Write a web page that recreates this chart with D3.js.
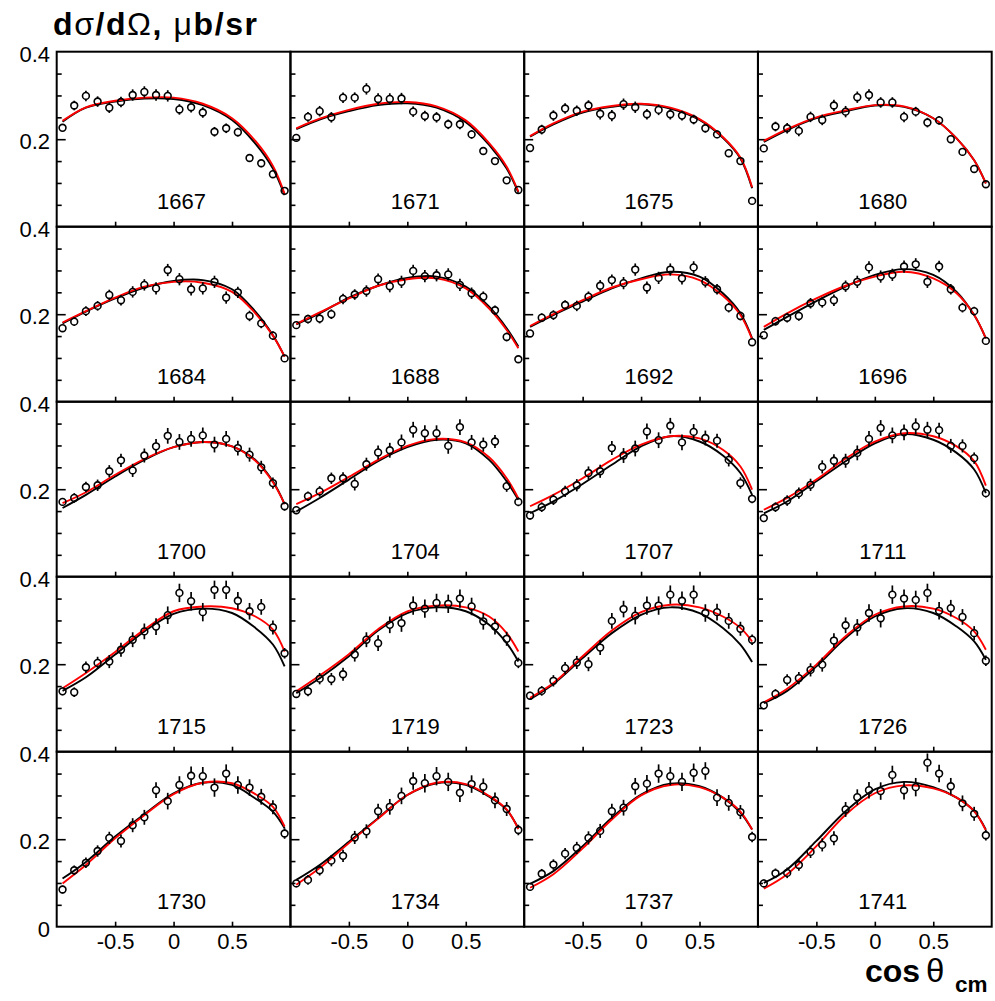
<!DOCTYPE html>
<html><head><meta charset="utf-8">
<script src="https://cdn.jsdelivr.net/npm/d3@7"></script>
<style>body{margin:0;background:#fff}svg{display:block}</style>
</head><body>
<script>
// ---------- data ----------
const energies = ["1667","1671","1675","1680","1684","1688","1692","1696","1700","1704","1707","1711","1715","1719","1723","1726","1730","1734","1737","1741"];
const cosTheta = [-0.95,-0.85,-0.75,-0.65,-0.55,-0.45,-0.35,-0.25,-0.15,-0.05,0.05,0.15,0.25,0.35,0.45,0.55,0.65,0.75,0.85,0.95];
const fitCos = [-0.95,-0.75,-0.5,-0.25,0,0.25,0.5,0.7,0.85,0.95];
const xTicks = [-0.5,0,0.5];
const yMajor = [0.2];
const yMinor = [0.05,0.1,0.15,0.25,0.3,0.35];

const d1667=[0.226,0.277,0.299,0.286,0.272,0.285,0.301,0.308,0.301,0.299,0.268,0.273,0.261,0.217,0.225,0.216,0.157,0.145,0.120,0.082];
const b1667=[0.240,0.272,0.286,0.293,0.292,0.278,0.244,0.190,0.133,0.072];
const r1667=[0.242,0.273,0.288,0.295,0.295,0.281,0.248,0.196,0.139,0.075];
const d1671=[0.203,0.251,0.264,0.250,0.295,0.295,0.315,0.292,0.292,0.293,0.263,0.253,0.250,0.234,0.234,0.211,0.173,0.150,0.106,0.084];
const b1671=[0.223,0.245,0.264,0.278,0.282,0.272,0.239,0.187,0.133,0.078];
const r1671=[0.225,0.247,0.267,0.281,0.285,0.275,0.243,0.191,0.137,0.080];
const d1675=[0.180,0.222,0.254,0.270,0.265,0.277,0.258,0.254,0.280,0.273,0.257,0.267,0.257,0.254,0.245,0.225,0.211,0.168,0.150,0.059];
const b1675=[0.206,0.234,0.261,0.274,0.280,0.270,0.244,0.203,0.156,0.088];
const r1675=[0.207,0.236,0.263,0.276,0.281,0.272,0.246,0.205,0.158,0.090];
const d1680=[0.179,0.229,0.225,0.219,0.251,0.244,0.277,0.263,0.296,0.301,0.284,0.284,0.251,0.263,0.238,0.243,0.200,0.171,0.132,0.097];
const b1680=[0.194,0.221,0.248,0.264,0.277,0.274,0.248,0.202,0.152,0.099];
const r1680=[0.196,0.223,0.250,0.266,0.278,0.275,0.248,0.202,0.152,0.099];
const d1684=[0.168,0.183,0.207,0.219,0.244,0.232,0.251,0.267,0.259,0.301,0.280,0.257,0.259,0.274,0.238,0.250,0.196,0.179,0.151,0.099];
const b1684=[0.179,0.206,0.236,0.261,0.276,0.278,0.257,0.206,0.152,0.103];
const r1684=[0.181,0.207,0.238,0.263,0.274,0.272,0.251,0.202,0.151,0.103];
const d1688=[0.175,0.189,0.190,0.200,0.235,0.245,0.253,0.280,0.264,0.274,0.299,0.287,0.289,0.291,0.267,0.248,0.240,0.209,0.148,0.097];
const b1688=[0.177,0.202,0.238,0.265,0.283,0.286,0.263,0.217,0.168,0.126];
const r1688=[0.178,0.204,0.236,0.265,0.280,0.282,0.259,0.213,0.164,0.122];
const d1692=[0.156,0.192,0.198,0.221,0.219,0.240,0.265,0.278,0.271,0.302,0.261,0.283,0.302,0.282,0.307,0.274,0.257,0.215,0.196,0.136];
const b1692=[0.171,0.198,0.229,0.259,0.282,0.297,0.286,0.248,0.202,0.145];
const r1692=[0.173,0.200,0.232,0.261,0.280,0.291,0.278,0.242,0.198,0.143];
const d1696=[0.152,0.184,0.192,0.196,0.225,0.227,0.232,0.264,0.274,0.307,0.286,0.290,0.309,0.314,0.274,0.309,0.257,0.215,0.207,0.139];
const b1696=[0.164,0.194,0.230,0.263,0.290,0.303,0.290,0.251,0.198,0.145];
const r1696=[0.171,0.202,0.236,0.265,0.286,0.297,0.282,0.248,0.198,0.145];
const d1700=[0.171,0.180,0.205,0.209,0.241,0.266,0.243,0.277,0.298,0.322,0.308,0.315,0.323,0.302,0.315,0.294,0.279,0.250,0.214,0.161];
const b1700=[0.157,0.187,0.229,0.267,0.296,0.308,0.298,0.267,0.218,0.166];
const r1700=[0.168,0.193,0.233,0.269,0.296,0.308,0.298,0.265,0.216,0.166];
const d1704=[0.152,0.184,0.195,0.225,0.225,0.212,0.257,0.284,0.289,0.307,0.336,0.328,0.328,0.299,0.342,0.307,0.302,0.309,0.207,0.171];
const b1704=[0.149,0.180,0.222,0.264,0.296,0.313,0.305,0.267,0.218,0.176];
const r1704=[0.166,0.191,0.228,0.267,0.299,0.315,0.307,0.273,0.225,0.179];
const d1707=[0.140,0.159,0.176,0.195,0.209,0.237,0.241,0.294,0.277,0.293,0.332,0.312,0.345,0.307,0.331,0.317,0.311,0.267,0.214,0.178];
const b1707=[0.145,0.172,0.212,0.256,0.298,0.321,0.309,0.277,0.237,0.187];
const r1707=[0.161,0.187,0.225,0.267,0.302,0.321,0.316,0.290,0.252,0.199];
const d1711=[0.134,0.159,0.174,0.191,0.210,0.251,0.265,0.265,0.283,0.315,0.340,0.323,0.330,0.344,0.336,0.335,0.299,0.299,0.271,0.191];
const b1711=[0.145,0.172,0.218,0.264,0.305,0.326,0.313,0.283,0.245,0.191];
const r1711=[0.153,0.180,0.222,0.270,0.309,0.328,0.321,0.298,0.264,0.208];
const d1715=[0.138,0.136,0.193,0.203,0.206,0.233,0.256,0.275,0.286,0.312,0.363,0.344,0.319,0.370,0.370,0.345,0.321,0.331,0.284,0.225];
const b1715=[0.139,0.170,0.222,0.275,0.315,0.327,0.317,0.283,0.245,0.195];
const r1715=[0.145,0.180,0.228,0.279,0.321,0.332,0.328,0.309,0.279,0.229];
const d1719=[0.132,0.138,0.167,0.166,0.177,0.222,0.256,0.248,0.290,0.294,0.334,0.327,0.340,0.338,0.350,0.332,0.298,0.286,0.258,0.203];
const b1719=[0.134,0.168,0.218,0.277,0.317,0.330,0.321,0.290,0.248,0.206];
const r1719=[0.138,0.174,0.223,0.280,0.321,0.334,0.330,0.309,0.271,0.229];
const d1723=[0.128,0.139,0.162,0.191,0.204,0.200,0.238,0.299,0.326,0.311,0.334,0.334,0.359,0.345,0.359,0.317,0.319,0.299,0.281,0.256];
const b1723=[0.120,0.155,0.214,0.271,0.313,0.330,0.317,0.283,0.245,0.205];
const r1723=[0.123,0.157,0.218,0.277,0.319,0.336,0.330,0.309,0.283,0.252];
const d1726=[0.106,0.132,0.164,0.168,0.187,0.199,0.254,0.289,0.284,0.317,0.305,0.359,0.350,0.347,0.363,0.322,0.328,0.308,0.271,0.208];
const b1726=[0.111,0.139,0.195,0.260,0.309,0.328,0.317,0.286,0.252,0.210];
const r1726=[0.113,0.144,0.199,0.264,0.313,0.332,0.327,0.305,0.275,0.233];
const d1730=[0.085,0.129,0.146,0.173,0.203,0.196,0.232,0.250,0.312,0.287,0.324,0.345,0.344,0.318,0.350,0.324,0.318,0.297,0.273,0.213];
const b1730=[0.110,0.148,0.206,0.257,0.305,0.329,0.324,0.293,0.263,0.225];
const r1730=[0.099,0.141,0.202,0.255,0.303,0.329,0.328,0.303,0.274,0.229];
const d1734=[0.099,0.107,0.129,0.151,0.162,0.204,0.218,0.264,0.274,0.299,0.333,0.328,0.344,0.331,0.306,0.326,0.320,0.289,0.269,0.221];
const b1734=[0.107,0.141,0.194,0.248,0.301,0.328,0.324,0.297,0.267,0.225];
const r1734=[0.096,0.134,0.191,0.247,0.301,0.329,0.326,0.299,0.268,0.223];
const d1737=[0.091,0.121,0.142,0.167,0.180,0.203,0.219,0.264,0.272,0.321,0.327,0.350,0.344,0.331,0.352,0.356,0.295,0.283,0.262,0.205];
const b1737=[0.098,0.127,0.184,0.249,0.302,0.327,0.321,0.295,0.261,0.222];
const r1737=[0.089,0.120,0.179,0.245,0.300,0.324,0.319,0.295,0.263,0.222];
const d1741=[0.099,0.122,0.123,0.141,0.171,0.187,0.202,0.268,0.296,0.312,0.310,0.347,0.312,0.319,0.375,0.350,0.321,0.282,0.258,0.209];
const b1741=[0.100,0.131,0.196,0.264,0.314,0.331,0.319,0.295,0.264,0.222];
const r1741=[0.087,0.120,0.184,0.256,0.305,0.323,0.316,0.295,0.264,0.220];

const errRow1=[0.008,0.011,0.012,0.012,0.012,0.012,0.013,0.013,0.013,0.013,0.012,0.012,0.012,0.011,0.011,0.010,0.009,0.009,0.008,0.006];
const errRow2=[0.008,0.010,0.011,0.011,0.012,0.012,0.013,0.013,0.014,0.014,0.014,0.014,0.014,0.014,0.014,0.013,0.012,0.011,0.010,0.008];
const errRow3=[0.009,0.011,0.012,0.013,0.014,0.015,0.015,0.016,0.017,0.018,0.018,0.018,0.018,0.018,0.018,0.017,0.016,0.015,0.013,0.010];
const errRow4=[0.009,0.011,0.013,0.014,0.015,0.016,0.017,0.018,0.019,0.020,0.021,0.021,0.021,0.021,0.021,0.020,0.019,0.018,0.016,0.012];
const errRow5=[0.009,0.011,0.012,0.013,0.014,0.015,0.016,0.017,0.018,0.019,0.020,0.021,0.021,0.021,0.021,0.020,0.019,0.018,0.016,0.012];

const pointSets=[d1667,d1671,d1675,d1680,d1684,d1688,d1692,d1696,d1700,d1704,d1707,d1711,d1715,d1719,d1723,d1726,d1730,d1734,d1737,d1741];
const blackFits=[b1667,b1671,b1675,b1680,b1684,b1688,b1692,b1696,b1700,b1704,b1707,b1711,b1715,b1719,b1723,b1726,b1730,b1734,b1737,b1741];
const redFits=[r1667,r1671,r1675,r1680,r1684,r1688,r1692,r1696,r1700,r1704,r1707,r1711,r1715,r1719,r1723,r1726,r1730,r1734,r1737,r1741];
const rowErrors=[errRow1,errRow2,errRow3,errRow4,errRow5];

// ---------- layout ----------
const W=995,H=1001;
const gLeft=56.7, gTop=51.7, colW=233.75, rowH=175;
const FONT="'Liberation Sans', Arial, Helvetica, sans-serif";

const svg=d3.select("body").append("svg").attr("width",W).attr("height",H)
  .style("font-family",FONT);
svg.append("rect").attr("width",W).attr("height",H).attr("fill","#fff");

const R=3.4;
energies.forEach((en,i)=>{
  const row=Math.floor(i/4), col=i%4;
  const x0=gLeft+col*colW, y0=gTop+row*rowH;
  const x=d3.scaleLinear().domain([-1,1]).range([x0,x0+colW]);
  const y=d3.scaleLinear().domain([0,0.4]).range([y0+rowH,y0]);
  const g=svg.append("g");

  // ticks
  const ayMin=d3.axisLeft(y).tickValues(yMinor).tickSize(-5).tickFormat("");
  const ayMaj=d3.axisLeft(y).tickValues(yMajor).tickSize(-9).tickFormat("");
  const axB=d3.axisBottom(x).tickValues(xTicks).tickSize(-5).tickFormat("");
  [ayMin,ayMaj].forEach(a=>{
    const t=g.append("g").attr("transform",`translate(${x0},0)`).call(a);
    t.select(".domain").remove();
    t.selectAll("line").attr("stroke","#000").attr("stroke-width",1.6);
  });
  const tb=g.append("g").attr("transform",`translate(0,${y0+rowH})`).call(axB);
  tb.select(".domain").remove();
  tb.selectAll("line").attr("stroke","#000").attr("stroke-width",1.6);

  // fits
  const line=d3.line().x((d,k)=>x(fitCos[k])).y(d=>y(d)).curve(d3.curveCatmullRom.alpha(0.5));
  g.append("path").attr("d",line(blackFits[i])).attr("fill","none").attr("stroke","#000").attr("stroke-width",1.9);
  g.append("path").attr("d",line(redFits[i])).attr("fill","none").attr("stroke","#ff0000").attr("stroke-width",1.9);

  // data points
  const errs=rowErrors[row];
  const pts=pointSets[i];
  pts.forEach((v,k)=>{
    const cx=x(cosTheta[k]), cy=y(v);
    const top=y(v+errs[k]), bot=y(v-errs[k]);
    if(cy-top>R) g.append("line").attr("x1",cx).attr("x2",cx).attr("y1",top).attr("y2",cy-R).attr("stroke","#000").attr("stroke-width",1.7);
    if(bot-cy>R) g.append("line").attr("x1",cx).attr("x2",cx).attr("y1",cy+R).attr("y2",bot).attr("stroke","#000").attr("stroke-width",1.7);
    g.append("circle").attr("cx",cx).attr("cy",cy).attr("r",R).attr("fill","none").attr("stroke","#000").attr("stroke-width",1.6);
  });

  // energy label
  g.append("text").attr("x",x(0)+8).attr("y",y0+157).attr("text-anchor","middle")
    .attr("font-size",22).attr("fill","#000").text(en);

  // frame
  g.append("rect").attr("x",x0).attr("y",y0).attr("width",colW).attr("height",rowH)
    .attr("fill","none").attr("stroke","#000").attr("stroke-width",2);

  // y labels (first column)
  if(col===0){
    const vals = row===4 ? [0,0.2,0.4] : [0.2,0.4];
    const ay=d3.axisLeft(y).tickValues(vals).tickSize(0).tickPadding(6.7)
      .tickFormat(d=>d===0?"0":String(d));
    const t=g.append("g").attr("transform",`translate(${x0},0)`).call(ay);
    t.select(".domain").remove();
    t.selectAll("text").attr("font-size",22).attr("font-family",FONT).attr("fill","#000").attr("dy","0.43em");
  }
  // x labels (last row)
  if(row===4){
    const ax=d3.axisBottom(x).tickValues(xTicks).tickSize(0).tickPadding(7)
      .tickFormat(d=>d===0?"0":String(d));
    const t=g.append("g").attr("transform",`translate(0,${y0+rowH})`).call(ax);
    t.select(".domain").remove();
    t.selectAll("text").attr("font-size",22).attr("font-family",FONT).attr("fill","#000");
  }
});

// titles
const yt=svg.append("text").attr("x",53).attr("y",35).attr("font-size",32).attr("font-weight","bold")
  .attr("textLength",204).attr("lengthAdjust","spacing");
yt.append("tspan").text("d");
yt.append("tspan").attr("font-weight","normal").text("σ");
yt.append("tspan").text("/d");
yt.append("tspan").attr("font-weight","normal").text("Ω");
yt.append("tspan").text(", ");
yt.append("tspan").attr("font-weight","normal").text("μ");
yt.append("tspan").text("b/sr");

const xt=svg.append("text").attr("y",982);
xt.append("tspan").attr("x",865).attr("font-size",32).attr("font-weight","bold").text("cos");
xt.append("tspan").attr("x",926).attr("font-size",33).text("θ");
xt.append("tspan").attr("x",955).attr("dy",10).attr("font-size",22.5).attr("font-weight","bold").text("cm");
</script>
</body></html>
